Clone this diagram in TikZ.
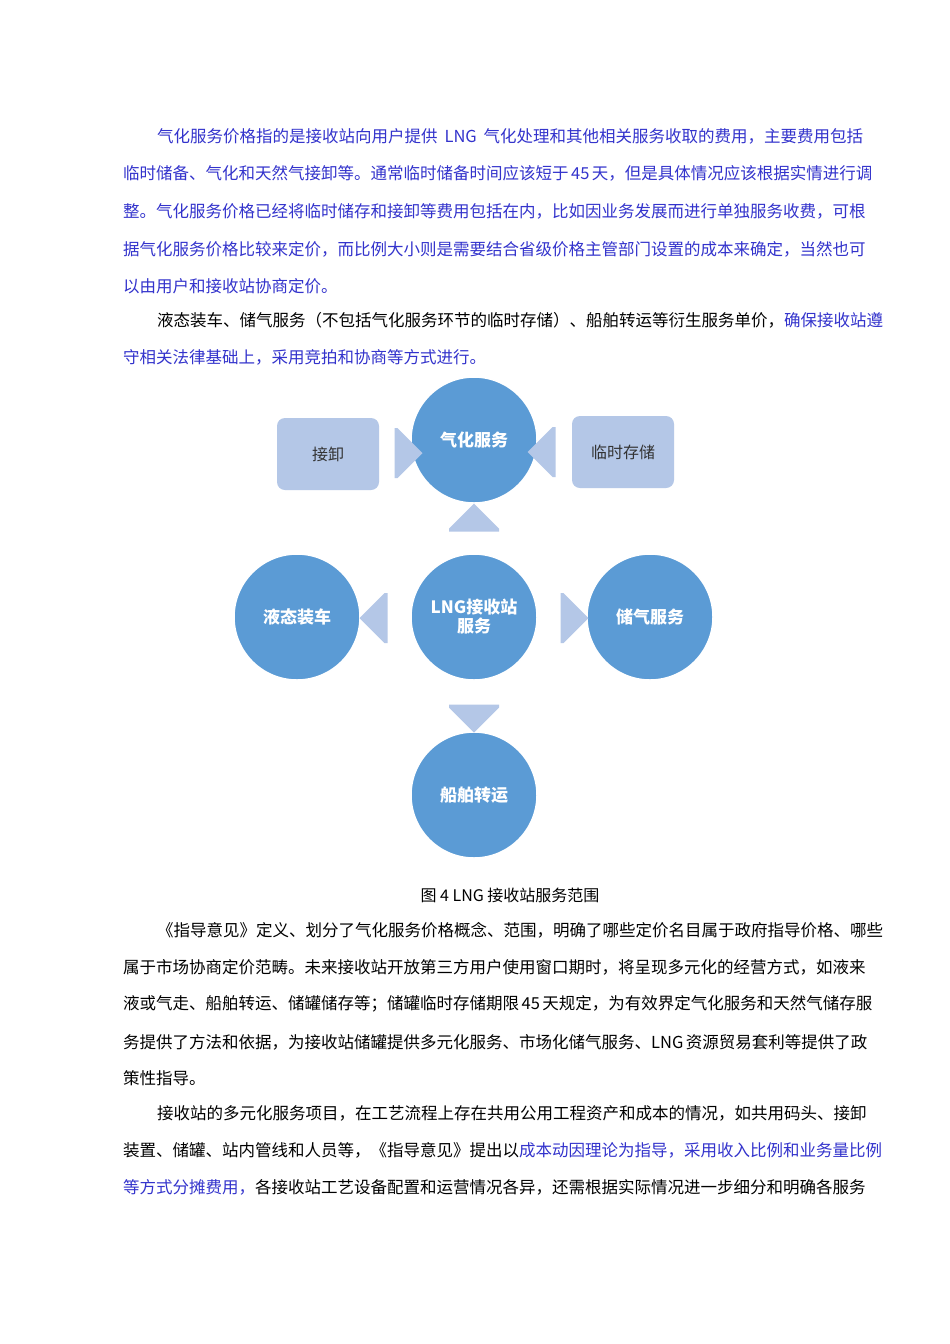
\documentclass[tikz,border=0pt]{standalone}
\usepackage{fontspec}
\setmainfont{Noto Sans CJK SC}
\usetikzlibrary{shapes.arrows}
\XeTeXlinebreaklocale "zh"
\XeTeXlinebreakskip=0pt plus 3pt
\definecolor{tblue}{RGB}{51,51,204}
\definecolor{cblue}{RGB}{91,155,213}
\definecolor{lblue}{RGB}{180,199,231}
\newcommand{\jl}[1]{\makebox[740pt][s]{#1}}
\newcommand{\il}[1]{\makebox[706pt][s]{#1}}
\begin{document}
\begin{tikzpicture}[x=1pt,y=-1pt,
  txt/.style={anchor=west,inner sep=0pt,font=\fontsize{16.5}{18}\selectfont},
  circ/.style={circle,fill=cblue,draw=white,line width=1.5pt,minimum size=126pt,text=white,font=\fontsize{17}{19}\selectfont\bfseries,align=center,inner sep=0pt},
  rbox/.style={rounded corners=8pt,fill=lblue,minimum width=102pt,minimum height=72pt,font=\fontsize{16}{18}\selectfont,text=black!80},
  barrow/.style={single arrow,fill=lblue,minimum height=28pt,minimum width=50pt,single arrow head extend=0pt,inner sep=0pt,shape border rotate=#1}]
\useasboundingbox (0,0) rectangle (950,1344);
\fill[white] (0,0) rectangle (950,1344);
% paragraphs
\node[txt,text=tblue] (l1) at (157,136) {\il{气化服务价格指的是接收站向用户提供 LNG 气化处理和其他相关服务收取的费用，主要费用包括}};
\node[txt,text=tblue] (l2) at (123,173) {\jl{临时储备、气化和天然气接卸等。通常临时储备时间应该短于 45 天，但是具体情况应该根据实情进行调}};
\node[txt,text=tblue] (l3) at (123,211) {\jl{整。气化服务价格已经将临时储存和接卸等费用包括在内，比如因业务发展而进行单独服务收费，可根}};
\node[txt,text=tblue] (l4) at (123,249) {\jl{据气化服务价格比较来定价，而比例大小则是需要结合省级价格主管部门设置的成本来确定，当然也可}};
\node[txt,text=tblue] (l5) at (123,286) {以由用户和接收站协商定价。};
\node[txt] (l6) at (157,320) {\il{液态装车、储气服务（不包括气化服务环节的临时存储）、船舶转运等衍生服务单价，\textcolor{tblue}{确保接收站遵}}};
\node[txt,text=tblue] (l7) at (123,357) {守相关法律基础上，采用竞拍和协商等方式进行。};
% diagram
\node[circ] (qh) at (474,440) {气化服务};
\node[circ] (lng) at (474,617) {LNG接收站\\服务};
\node[circ] (yt) at (297,617) {液态装车};
\node[circ] (cq) at (650,617) {储气服务};
\node[circ] (cb) at (474,795) {船舶转运};
\node[rbox] (jx) at (328,454) {接卸};
\node[rbox] (ls) at (623,452) {临时存储};
\node[barrow=0] (a1) at (396,453) {};
\node[barrow=180] (a2) at (554,452) {};
\node[barrow=90] (a3) at (474,530) {};
\node[barrow=270] (a4) at (474,706) {};
\node[barrow=180] (a5) at (386,618) {};
\node[barrow=0] (a6) at (562,618) {};
\node[font=\fontsize{16}{18}\selectfont,inner sep=0pt] (cap) at (510,895) {图 4 LNG 接收站服务范围};
% lower paragraphs
\node[txt] (m1) at (157,930) {\il{《指导意见》定义、划分了气化服务价格概念、范围，明确了哪些定价名目属于政府指导价格、哪些}};
\node[txt] (m2) at (123,967) {\jl{属于市场协商定价范畴。未来接收站开放第三方用户使用窗口期时，将呈现多元化的经营方式，如液来}};
\node[txt] (m3) at (123,1004) {\jl{液或气走、船舶转运、储罐储存等；储罐临时存储期限 45 天规定，为有效界定气化服务和天然气储存服}};
\node[txt] (m4) at (123,1042) {\jl{务提供了方法和依据，为接收站储罐提供多元化服务、市场化储气服务、LNG 资源贸易套利等提供了政}};
\node[txt] (m5) at (123,1078) {策性指导。};
\node[txt] (m6) at (157,1113) {\il{接收站的多元化服务项目，在工艺流程上存在共用公用工程资产和成本的情况，如共用码头、接卸}};
\node[txt] (m7) at (123,1150) {\jl{装置、储罐、站内管线和人员等，《指导意见》提出以\textcolor{tblue}{成本动因理论为指导，采用收入比例和业务量比例}}};
\node[txt] (m8) at (123,1187) {\jl{\textcolor{tblue}{等方式分摊费用，}各接收站工艺设备配置和运营情况各异，还需根据实际情况进一步细分和明确各服务}};
\end{tikzpicture}
\end{document}
